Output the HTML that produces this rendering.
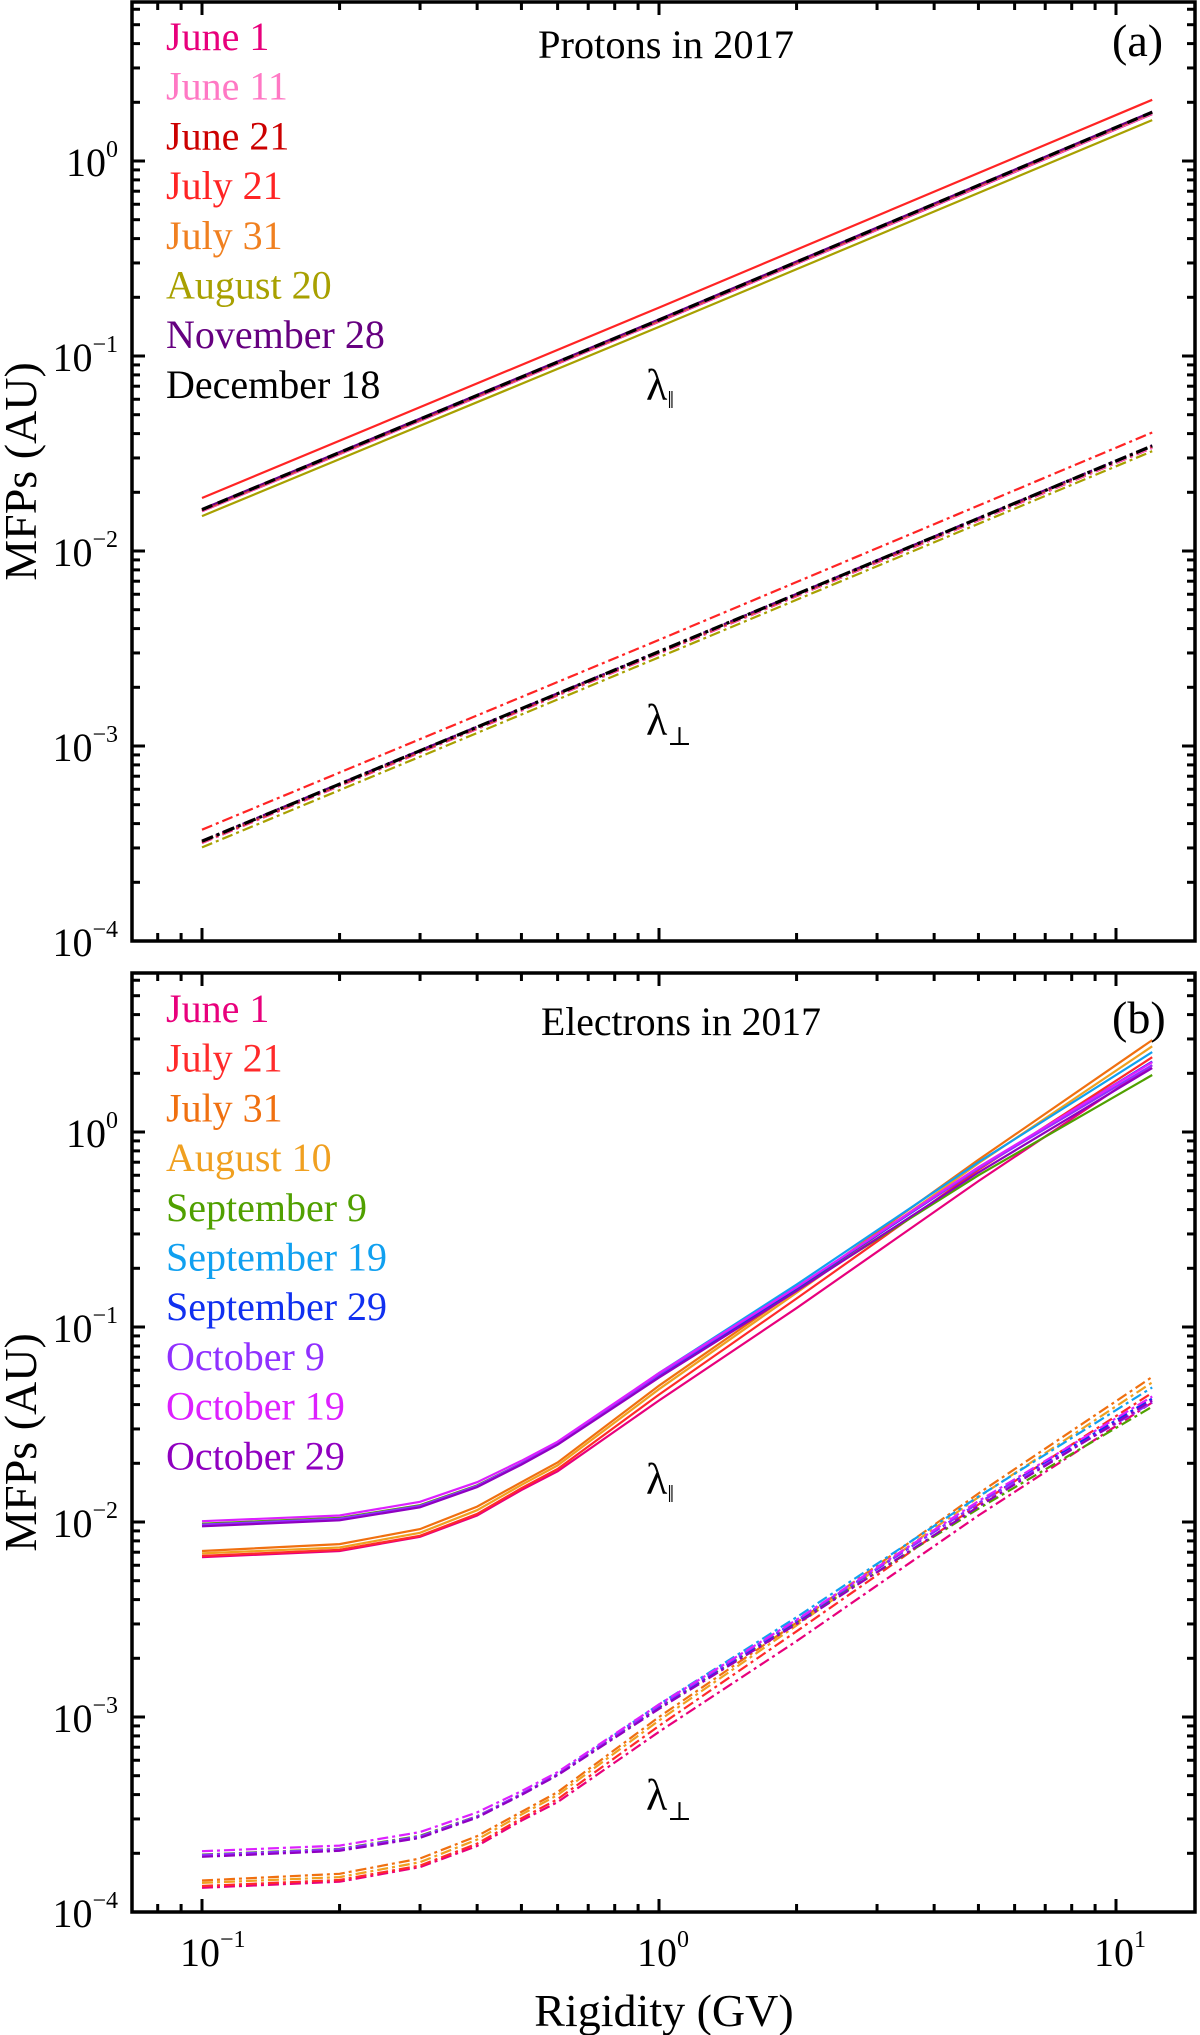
<!DOCTYPE html>
<html><head><meta charset="utf-8">
<style>
html,body{margin:0;padding:0;background:#fff;}
svg{display:block;}
svg text{font-family:"Liberation Serif","DejaVu Serif",serif;}
</style></head>
<body>
<svg id="chart" width="1200" height="2035" viewBox="0 0 1200 2035" xmlns="http://www.w3.org/2000/svg" font-family="Liberation Serif, DejaVu Serif, serif"></svg>
<script>
// ---------- data ----------
const protonRigidity = [0.1, 1, 12];
const protonNames = ["June 1","June 11","June 21","July 21","July 31","August 20","November 28","December 18"];
const protonColors = ["#e8007c","#ff78c4","#cc0000","#ff2424","#f08020","#a8a000","#660080","#000000"];
const protonPar_Jun1  = [0.0160, 0.150, 1.74];
const protonPar_Jun11 = [0.0161, 0.151, 1.75];
const protonPar_Jun21 = [0.0162, 0.152, 1.77];
const protonPar_Jul21 = [0.0187, 0.177, 2.06];
const protonPar_Jul31 = [0.0163, 0.153, 1.78];
const protonPar_Aug20 = [0.0151, 0.141, 1.62];
const protonPar_Nov28 = [0.0164, 0.154, 1.79];
const protonPar_Dec18 = [0.0163, 0.153, 1.78];
const protonPerp_Jun1  = [0.000318, 0.00298, 0.0338];
const protonPerp_Jun11 = [0.000320, 0.00300, 0.0340];
const protonPerp_Jun21 = [0.000322, 0.00302, 0.0344];
const protonPerp_Jul21 = [0.000372, 0.00350, 0.0405];
const protonPerp_Jul31 = [0.000324, 0.00304, 0.0346];
const protonPerp_Aug20 = [0.000302, 0.00285, 0.0325];
const protonPerp_Nov28 = [0.000327, 0.00306, 0.0348];
const protonPerp_Dec18 = [0.000325, 0.00305, 0.0346];

const electronRigidity = [0.1, 0.2, 0.3, 0.4, 0.5, 0.6, 1, 2, 5, 12];
const electronNames = ["June 1","July 21","July 31","August 10","September 9","September 19","September 29","October 9","October 19","October 29"];
const electronColors = ["#e8007c","#ff2a2a","#f07010","#f0a020","#50a000","#10a0f0","#1030f0","#9030ff","#dd20ff","#9000c0"];
const elecPar_Jun1  = [0.0066,0.0071,0.0084,0.0108,0.0146,0.0182,0.042,0.125,0.56,2.20];
const elecPar_Jul21 = [0.0067,0.0072,0.0085,0.0110,0.0149,0.0187,0.045,0.140,0.64,2.42];
const elecPar_Jul31 = [0.0071,0.0077,0.0092,0.0120,0.0160,0.0202,0.050,0.155,0.72,2.96];
const elecPar_Aug10 = [0.0069,0.0074,0.0088,0.0115,0.0155,0.0195,0.048,0.150,0.69,2.75];
const elecPar_Sep9  = [0.0098,0.0105,0.0122,0.0154,0.0200,0.0252,0.056,0.155,0.60,1.96];
const elecPar_Sep19 = [0.0096,0.0103,0.0120,0.0152,0.0199,0.0252,0.058,0.165,0.70,2.57];
const elecPar_Sep29 = [0.0096,0.0103,0.0120,0.0152,0.0198,0.0250,0.056,0.158,0.65,2.30];
const elecPar_Oct9  = [0.0097,0.0104,0.0121,0.0153,0.0200,0.0252,0.057,0.160,0.65,2.20];
const elecPar_Oct19 = [0.0101,0.0108,0.0127,0.0160,0.0206,0.0258,0.058,0.160,0.66,2.28];
const elecPar_Oct29 = [0.0095,0.0102,0.0119,0.0151,0.0197,0.0249,0.055,0.153,0.62,2.13];
const elecPerp_Jun1  = [0.000133,0.000143,0.000170,0.000218,0.000294,0.000366,0.00084,0.00245,0.0108,0.0410];
const elecPerp_Jul21 = [0.000136,0.000146,0.000173,0.000224,0.000302,0.000379,0.00090,0.00275,0.0123,0.0460];
const elecPerp_Jul31 = [0.000145,0.000157,0.000188,0.000245,0.000326,0.000412,0.00100,0.00305,0.0140,0.0555];
const elecPerp_Aug10 = [0.000141,0.000151,0.000180,0.000235,0.000316,0.000398,0.00096,0.00295,0.0134,0.0520];
const elecPerp_Sep9  = [0.000197,0.000211,0.000246,0.000310,0.000402,0.000507,0.00112,0.00305,0.0117,0.0390];
const elecPerp_Sep19 = [0.000195,0.000209,0.000243,0.000308,0.000403,0.000510,0.00116,0.00325,0.0135,0.0490];
const elecPerp_Sep29 = [0.000194,0.000208,0.000242,0.000307,0.000400,0.000505,0.00112,0.00310,0.0125,0.0430];
const elecPerp_Oct9  = [0.000196,0.000210,0.000244,0.000309,0.000404,0.000509,0.00114,0.00313,0.0125,0.0410];
const elecPerp_Oct19 = [0.000205,0.000219,0.000257,0.000324,0.000417,0.000522,0.00116,0.00315,0.0128,0.0440];
const elecPerp_Oct29 = [0.000192,0.000206,0.000240,0.000305,0.000398,0.000503,0.00110,0.00300,0.0120,0.0420];

const protonPar = [protonPar_Jun1,protonPar_Jun11,protonPar_Jun21,protonPar_Jul21,protonPar_Jul31,protonPar_Aug20,protonPar_Nov28,protonPar_Dec18];
const protonPerp = [protonPerp_Jun1,protonPerp_Jun11,protonPerp_Jun21,protonPerp_Jul21,protonPerp_Jul31,protonPerp_Aug20,protonPerp_Nov28,protonPerp_Dec18];
const elecPar = [elecPar_Jun1,elecPar_Jul21,elecPar_Jul31,elecPar_Aug10,elecPar_Sep9,elecPar_Sep19,elecPar_Sep29,elecPar_Oct9,elecPar_Oct19,elecPar_Oct29];
const elecPerp = [elecPerp_Jun1,elecPerp_Jul21,elecPerp_Jul31,elecPerp_Aug10,elecPerp_Sep9,elecPerp_Sep19,elecPerp_Sep29,elecPerp_Oct9,elecPerp_Oct19,elecPerp_Oct29];
const yTickExps = [0, -1, -2, -3, -4];
const xTickExps = [-1, 0, 1];

// ---------- layout ----------
const NS = "http://www.w3.org/2000/svg";
const svg = document.getElementById("chart");
const FONT = "Liberation Serif, DejaVu Serif, serif";
const X0 = 132, X1 = 1195;
const xZero = 659, xDec = 457;
const yDec = 195;
function xScale(v){ return xZero + xDec*Math.log10(v); }
function mk(tag, attrs, parent){
  const e = document.createElementNS(NS, tag);
  for (const k in attrs) e.setAttribute(k, attrs[k]);
  if (tag === "text") e.setAttribute("font-family", attrs["font-family"] || FONT);
  (parent||svg).appendChild(e);
  return e;
}
const panels = [
  {top:2, bottom:941, yZero:161, key:"a", title:"Protons in 2017", label:"(a)", titleX:538, titleY:58,
   names:protonNames, colors:protonColors, par:protonPar, perp:protonPerp, xs:protonRigidity,
   legendY:50, parLab:[646,400], perpLab:[646,735]},
  {top:973, bottom:1912, yZero:1132, key:"b", title:"Electrons in 2017", label:"(b)", titleX:541, titleY:1035,
   names:electronNames, colors:electronColors, par:elecPar, perp:elecPerp, xs:electronRigidity,
   legendY:1022, parLab:[646,1494], perpLab:[646,1810]}
];
panels.forEach(function(p){
  const g = mk("g", {});
  
  
  const yS = function(v){ return p.yZero - yDec*Math.log10(v); };
  const clipId = "clip" + p.key;
  const cp = mk("clipPath", {id:clipId}, g);
  mk("rect", {x:X0, y:p.top, width:X1-X0, height:p.bottom-p.top}, cp);
  const lines = mk("g", {"clip-path":"url(#"+clipId+")"}, g);
  
  
  function drawSeries(vals, i, kind){
    let d = "";
    for (let j=0;j<p.xs.length;j++){
      d += (j?"L":"M") + xScale(p.xs[j]).toFixed(1) + "," + yS(vals[j]).toFixed(1);
    }
    const isBlack = p.colors[i] === "#000000";
    const attrs = {d:d, fill:"none", stroke:p.colors[i], "stroke-width": isBlack?3.2:2.2};
    if (kind==="perp") attrs["stroke-dasharray"] = isBlack ? "12,4,3,4" : "11,4,3,4";
    else if (isBlack) attrs["stroke-dasharray"] = "11,6";
    const path = mk("path", attrs, lines);
    
    
  }
  p.par.forEach(function(v,i){ drawSeries(v,i,"par"); });
  p.perp.forEach(function(v,i){ drawSeries(v,i,"perp"); });
  const fr = mk("rect", {x:X0, y:p.top, width:X1-X0, height:p.bottom-p.top, fill:"none", stroke:"#000", "stroke-width":3.5}, g);
  
  
  const tk = mk("g", {stroke:"#000", "stroke-width":3}, g);
  
  
  for (let e=-4; e<=0; e++){
    for (let m=1;m<=9;m++){
      const y = yS(m*Math.pow(10,e));
      if (y < p.top+1 || y > p.bottom) continue;
      const L = m===1?13:8;
      mk("line",{x1:X0,y1:y,x2:X0+L,y2:y},tk);
      mk("line",{x1:X1,y1:y,x2:X1-L,y2:y},tk);
    }
  }
  for (let e=-2; e<=1; e++){
    for (let m=1;m<=9;m++){
      const x = xScale(m*Math.pow(10,e));
      if (x < X0+1 || x > X1-1) continue;
      const L = m===1?13:8;
      mk("line",{x1:x,y1:p.bottom,x2:x,y2:p.bottom-L},tk);
      mk("line",{x1:x,y1:p.top,x2:x,y2:p.top+L},tk);
    }
  }
  yTickExps.forEach(function(e){
    const t = mk("text", {x:118, y:yS(Math.pow(10,e))+15, "text-anchor":"end", "font-size":40, fill:"#000"}, g);
    
    
    const a = mk("tspan", {}, t); a.textContent = "10";
    const b = mk("tspan", {"font-size":24, dy:-19}, t); b.textContent = (e<0?"\u2212":"") + Math.abs(e);
  });
  const yt = mk("text", {x:0, y:0, transform:"translate(36,"+((p.top+p.bottom)/2)+") rotate(-90)", "text-anchor":"middle", "font-size":46, fill:"#000"}, g);
  
  
  yt.textContent = "MFPs (AU)";
  const tt = mk("text", {x:p.titleX, y:p.titleY, "font-size":40, fill:"#000", textLength: p.key==="a"?256:280, lengthAdjust:"spacingAndGlyphs"}, g);
  
  
  tt.textContent = p.title;
  const pl = mk("text", {x:1112, y:p.titleY-2, "font-size":46, fill:"#000"}, g);
  
  
  pl.textContent = p.label;
  const lg = mk("g", {}, g);
  
  
  p.names.forEach(function(n,i){
    const t = mk("text", {x:166, y:p.legendY + i*49.7, "font-size":40, fill:p.colors[i]}, lg);
    
    
    t.textContent = n;
  });
  const l1 = mk("text", {x:p.parLab[0], y:p.parLab[1], "font-size":44, fill:"#000"}, g);
  
  
  const l1a = mk("tspan", {}, l1); l1a.textContent = "\u03bb";
  const l1b = mk("tspan", {"font-size":24, dy:8}, l1); l1b.textContent = "\u2016";
  const l2 = mk("text", {x:p.perpLab[0], y:p.perpLab[1], "font-size":44, fill:"#000"}, g);
  
  
  const l2a = mk("tspan", {}, l2); l2a.textContent = "\u03bb";
  const l2b = mk("tspan", {"font-size":26, dy:10}, l2); l2b.textContent = "\u22a5";
});
xTickExps.forEach(function(e){
  const x = xScale(Math.pow(10,e));
  const t = mk("text", {x:x-22, y:1966, "font-size":40, fill:"#000"});
  
  
  const a = mk("tspan", {}, t); a.textContent = "10";
  const b = mk("tspan", {"font-size":24, dy:-19}, t); b.textContent = (e<0?"\u2212":"") + Math.abs(e);
});
const xt = mk("text", {x:664, y:2026, "text-anchor":"middle", "font-size":46, fill:"#000"});


xt.textContent = "Rigidity (GV)";
</script>
</body></html>
